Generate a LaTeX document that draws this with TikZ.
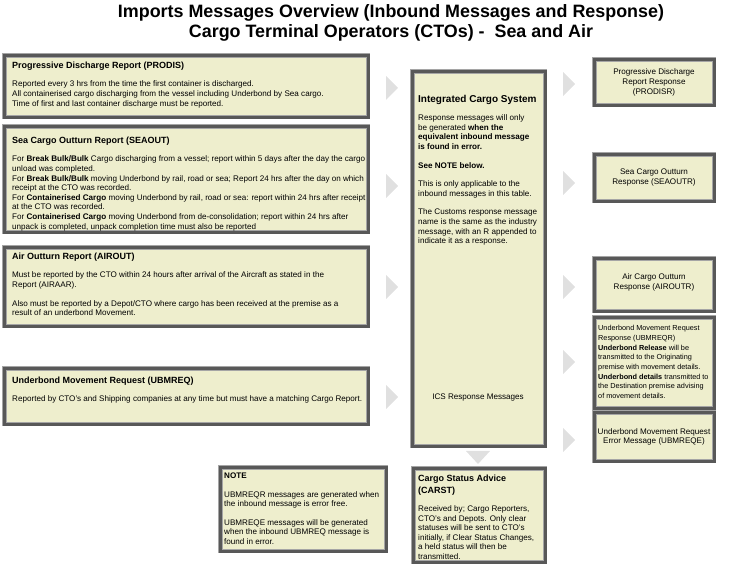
\documentclass[tikz,border=0pt]{standalone}
\usepackage{fontspec}
\setmainfont{Liberation Sans}
\definecolor{cream}{RGB}{238,238,205}
\definecolor{framedark}{RGB}{88,88,88}
\definecolor{framelight}{RGB}{165,165,165}
\definecolor{arrowgray}{RGB}{224,224,224}
\tikzset{
 framebox/.style={rectangle, fill=cream, draw=framelight, double=framedark, double distance=3pt, line width=0.7pt, inner sep=0pt},
 txt/.style={align=left, inner sep=0pt, font=\fontsize{8.1}{9.6}\selectfont, anchor=north west},
 ctxt/.style={align=center, inner sep=0pt, font=\fontsize{8.1}{9.6}\selectfont},
 titletxt/.style={align=center, inner sep=0pt, font=\fontsize{17.9}{20}\selectfont\bfseries},
 tri/.style={fill=arrowgray, draw=none}
}
\newcommand\hd[1]{{\fontsize{9}{11}\selectfont\bfseries #1}}
\newcommand\msgbox[5]{%
 \pgfmathsetmacro\bw{#4-#2-4.4}\pgfmathsetmacro\bh{#5-#3-4.4}%
 \node[framebox, minimum width=\bw pt, minimum height=\bh pt, anchor=north west] (#1) at (#2+2.2,#3+2.2) {};}
\newcommand\rtri[2]{\fill[tri] (#1,#2-12) -- (#1+12,#2) -- (#1,#2+12) -- cycle;}
\begin{document}
\begin{tikzpicture}[x=1pt,y=-1pt]
\useasboundingbox (0,0) rectangle (729,569);
% title
\node[titletxt] (title) at (391,23) {Imports Messages Overview (Inbound Messages and Response)\\Cargo Terminal Operators (CTOs) -\ \ Sea and Air};
% left boxes
\msgbox{prodis}{2}{53}{370}{119}
\msgbox{seaout}{2}{124}{370}{234}
\msgbox{airout}{2}{245}{370}{328}
\msgbox{ubmreq}{2}{366}{370}{426}
\node[txt] (prodis-t) at (12,61.7) {\hd{Progressive Discharge Report (PRODIS)}\\[8.8pt]
Reported every 3 hrs from the time the first container is discharged.\\
All containerised cargo discharging from the vessel including Underbond by Sea cargo.\\
Time of first and last container discharge must be reported.};
\node[txt] (seaout-t) at (12,136.7) {\hd{Sea Cargo Outturn Report (SEAOUT)}\\[8.8pt]
For \textbf{Break Bulk/Bulk} Cargo discharging from a vessel; report within 5 days after the day the cargo\\
unload was completed.\\
For \textbf{Break Bulk/Bulk} moving Underbond by rail, road or sea; Report 24 hrs after the day on which\\
receipt at the CTO was recorded.\\
For \textbf{Containerised Cargo} moving Underbond by rail, road or sea: report within 24 hrs after receipt\\
at the CTO was recorded.\\
For \textbf{Containerised Cargo} moving Underbond from de-consolidation; report within 24 hrs after\\
unpack is completed, unpack completion time must also be reported};
\node[txt] (airout-t) at (12,252.7) {\hd{Air Outturn Report (AIROUT)}\\[8.8pt]
Must be reported by the CTO within 24 hours after arrival of the Aircraft as stated in the\\
Report (AIRAAR).\\[9pt]
Also must be reported by a Depot/CTO where cargo has been received at the premise as a\\
result of an underbond Movement.};
\node[txt] (ubmreq-t) at (12,376.7) {\hd{Underbond Movement Request (UBMREQ)}\\[8.8pt]
Reported by CTO's and Shipping companies at any time but must have a matching Cargo Report.};
% ICS
\msgbox{ics}{410}{69}{547}{448}
\node[txt] (ics-t) at (418,95) {{\fontsize{10}{12}\selectfont\bfseries Integrated Cargo System}\\[8.6pt]
Response messages will only\\
be generated \textbf{when the}\\
\textbf{equivalent inbound message}\\
\textbf{is found in error.}\\[9pt]
\textbf{See NOTE below.}\\[9pt]
This is only applicable to the\\
inbound messages in this table.\\[9pt]
The Customs response message\\
name is the same as the industry\\
message, with an R appended to\\
indicate it as a response.};
\node[ctxt] (ics-r) at (478,398) {ICS Response Messages};
% CARST
\msgbox{carst}{411}{466}{547}{564}
\node[txt] (carst-t) at (418,474.7) {\hd{Cargo Status Advice}\\[2.4pt]\hd{(CARST)}\\[8.4pt]
Received by; Cargo Reporters,\\
CTO's and Depots. Only clear\\
statuses will be sent to CTO's\\
initially, if Clear Status Changes,\\
a held status will then be\\
transmitted.};
% NOTE
\msgbox{note}{218}{465}{388}{553}
\node[txt] (note-t) at (224,472.7) {\textbf{NOTE}\\[9pt]
UBMREQR messages are generated when\\
the inbound message is error free.\\[9pt]
UBMREQE messages will be generated\\
when the inbound UBMREQ message is\\
found in error.};
% right boxes
\msgbox{prodisr}{592}{57}{716}{107}
\msgbox{seaoutr}{592}{152}{716}{203}
\msgbox{airoutr}{592}{256}{716}{313}
\msgbox{ubmreqr}{592}{315}{716}{410}
\msgbox{ubmreqe}{592}{410}{716}{463}
\node[ctxt] (prodisr-t) at (654,82.5) {Progressive Discharge\\Report Response\\(PRODISR)};
\node[ctxt] (seaoutr-t) at (654,177.5) {Sea Cargo Outturn\\Response (SEAOUTR)};
\node[ctxt] (airoutr-t) at (654,282.5) {Air Cargo Outturn\\Response (AIROUTR)};
\node[txt, font=\fontsize{7.3}{9.7}\selectfont] (ubmreqr-t) at (598,325.3) {Underbond Movement Request\\
Response (UBMREQR)\\
\textbf{Underbond Release} will be\\
transmitted to the Originating\\
premise with movement details.\\
\textbf{Underbond details} transmitted to\\
the Destination premise advising\\
of movement details.};
\node[ctxt] (ubmreqe-t) at (654,437) {Underbond Movement Request\\Error Message (UBMREQE)};
% triangles
\rtri{386}{88}
\rtri{386}{186}
\rtri{386}{287}
\rtri{386}{397}
\rtri{563}{84}
\rtri{563}{183}
\rtri{563}{287}
\rtri{563}{362}
\rtri{563}{440}
\fill[tri] (466,451) -- (490,451) -- (478,464) -- cycle;
\end{tikzpicture}
\end{document}
